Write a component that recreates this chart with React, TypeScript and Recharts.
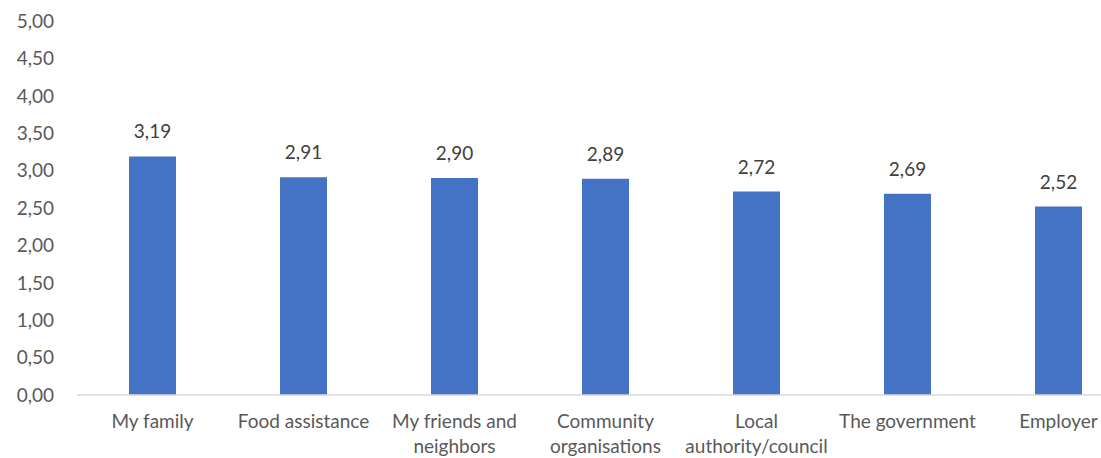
import React from "react"
import { BarChart, Bar, XAxis, YAxis, LabelList, Text } from "recharts"

const categories = [
  "My family",
  "Food assistance",
  "My friends and neighbors",
  "Community organisations",
  "Local authority/council",
  "The government",
  "Employer",
]
const scores = [3.19, 2.91, 2.9, 2.89, 2.72, 2.69, 2.52]
const yTicks = [0, 0.5, 1, 1.5, 2, 2.5, 3, 3.5, 4, 4.5, 5]

const data = categories.map((name, i) => ({ name, score: scores[i] }))

const fmt = (v: number) => v.toFixed(2).replace(".", ",")

const FONT = "Lato, 'Open Sans', sans-serif"

function CategoryTick(props: any) {
  const { x, y, payload } = props
  return (
    <Text
      x={x}
      y={y + 12}
      width={148}
      textAnchor="middle"
      verticalAnchor="start"
      lineHeight="25px"
      fill="#595959"
      fontSize={19}
      fontFamily={FONT}
    >
      {payload.value}
    </Text>
  )
}

export default function App() {
  return (
    <div
      style={{
        position: "absolute",
        left: 0,
        top: 0,
        width: 1101,
        height: 458,
        overflow: "hidden",
        background: "#fff",
      }}
    >
      <BarChart
        width={1134}
        height={458}
        data={data}
        margin={{ top: 21, right: 0, bottom: 0, left: 8 }}
      >
        <XAxis
          dataKey="name"
          height={63}
          interval={0}
          tickLine={false}
          axisLine={{ stroke: "#d9d9d9", strokeWidth: 1.5 }}
          tick={<CategoryTick />}
        />
        <YAxis
          width={69}
          domain={[0, 5]}
          ticks={yTicks}
          axisLine={false}
          tickLine={false}
          tickSize={0}
          tickMargin={23}
          tickFormatter={fmt}
          tick={{ fill: "#595959", fontSize: 19, fontFamily: FONT }}
        />
        <Bar dataKey="score" fill="#4472c4" barSize={47} isAnimationActive={false}>
          <LabelList
            dataKey="score"
            position="top"
            offset={18}
            formatter={(v: any) => fmt(Number(v))}
            style={{ fill: "#404040", fontSize: 19, fontFamily: FONT }}
          />
        </Bar>
      </BarChart>
    </div>
  )
}
